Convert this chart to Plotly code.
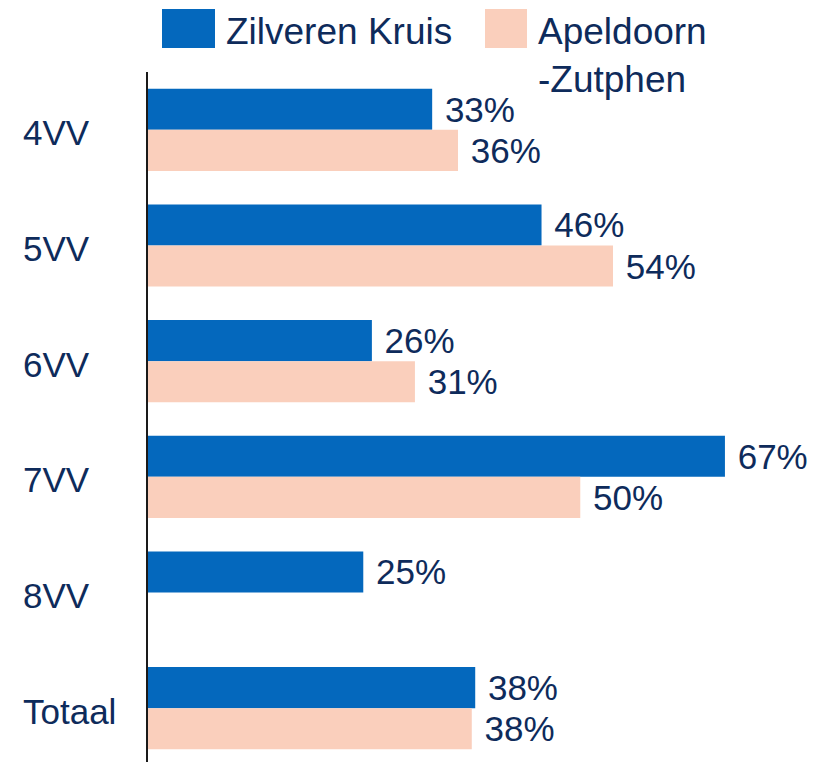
import plotly.graph_objects as go

categories = ["4VV", "5VV", "6VV", "7VV", "8VV", "Totaal"]
series_names = ["Zilveren Kruis", "Apeldoorn<br>-Zutphen"]
zk_values = [33, 45.7, 26, 67, 25, 38]
ad_values = [36, 54, 31, 50.2, None, 37.6]

blue = "#0468BD"
peach = "#FACFBC"
text_col = "#0E2B5B"
font_fam = "Liberation Sans, Arial, sans-serif"

# page is offset by body margin (8px); positions below are in figure pixels
OFF = 8
W, H = 825, 762
L, R, T, B = 148 - OFF, 65, 72 - OFF, 4
pw, ph = W - L - R, H - T - B

def px(x):
    return (x - OFF - L) / pw

def py(y):
    return (H - B - (y - OFF)) / ph

fig = go.Figure()
for name, vals, col in [(series_names[0], zk_values, blue), (series_names[1], ad_values, peach)]:
    fig.add_trace(go.Bar(
        y=categories, x=vals, orientation="h", name=name,
        marker=dict(color=col, line=dict(width=0)),
        text=vals, texttemplate=" %{x:.0f}%", textposition="outside",
        textfont=dict(size=35, color=text_col, family=font_fam),
        constraintext="none", cliponaxis=False, showlegend=False,
    ))

# category labels (left aligned)
for c in categories:
    fig.add_annotation(x=px(21), xref="paper", y=c, yref="y", text=c,
                       showarrow=False, xanchor="left", yanchor="middle", yshift=-3,
                       font=dict(size=35, color=text_col, family=font_fam))

# manual legend
legend_items = [(series_names[0], blue, 162, 215, 224), (series_names[1], peach, 485, 527, 536)]
for name, col, x0, x1, tx in legend_items:
    fig.add_shape(type="rect", xref="paper", yref="paper",
                  x0=px(x0), x1=px(x1), y0=py(48), y1=py(9),
                  fillcolor=col, line=dict(width=0))
    fig.add_annotation(x=px(tx), xref="paper", y=py(9), yref="paper", text=name,
                       showarrow=False, xanchor="left", yanchor="top", align="left",
                       font=dict(size=37, color=text_col, family=font_fam))

fig.update_layout(
    width=W, height=H,
    margin=dict(l=L, r=R, t=T, b=B, pad=0),
    paper_bgcolor="white", plot_bgcolor="white",
    barmode="group", bargap=0.29, bargroupgap=0,
    xaxis=dict(range=[0, 72], showgrid=False, zeroline=False, showline=False,
               showticklabels=False, ticks=""),
    yaxis=dict(range=[5.5, -0.5], type="category", showgrid=False, zeroline=False,
               showline=True, linecolor="#1a1a1a", linewidth=2,
               showticklabels=False, ticks=""),
    font=dict(family=font_fam, color=text_col),
)

fig.write_html("out.html")
